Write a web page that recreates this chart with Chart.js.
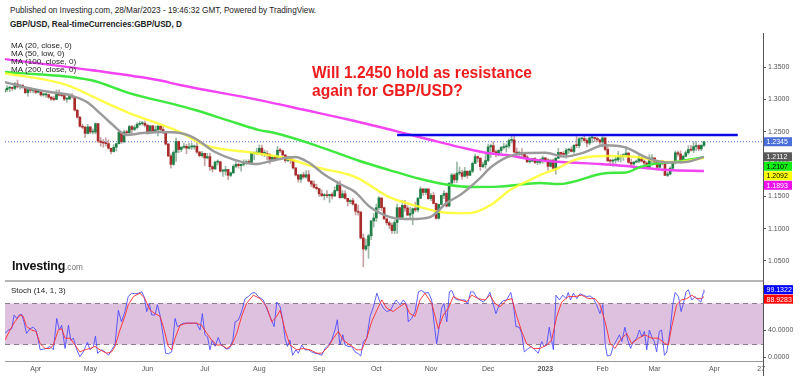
<!DOCTYPE html>
<html>
<head>
<meta charset="utf-8">
<script src="https://cdn.jsdelivr.net/npm/chart.js@4.4.0/dist/chart.umd.min.js"></script>
<style>
  body { margin: 0; width: 800px; height: 376px; background: #fff; position: relative; overflow: hidden;
         font-family: "Liberation Sans", Arial, sans-serif; }
  canvas { position: absolute; left: 0; }
  #main { top: 33px; }
  #stoch { top: 281px; }
  .t { position: absolute; white-space: nowrap; color: #222; line-height: 1; }
  #pub { left: 10px; top: 7px; font-size: 8.2px; }
  #sym { left: 10px; top: 20.5px; font-size: 8.2px; font-weight: bold; }
  #legend { left: 11px; top: 41.6px; font-size: 8.1px; line-height: 8.1px; }
  #note { left: 312px; top: 64px; font-size: 15.6px; font-weight: bold; color: #ee1c1c; line-height: 18px; }
  #logo { left: 12px; top: 260px; font-size: 12.5px; font-weight: bold; color: #111; letter-spacing: -0.2px; }
  #logo span { font-size: 8.2px; font-weight: normal; color: #777; letter-spacing: 0; }
  #stlabel { left: 11px; top: 287px; font-size: 8px; }
  #sep { position: absolute; left: 5px; top: 280px; width: 758px; height: 0; border-top: 2px solid #b4b4b4; }
  #axisfoot { position: absolute; left: 763px; top: 361px; width: 1px; height: 15px; background: #555; }
</style>
</head>
<body>
<div class="t" id="pub">Published on Investing.com, 28/Mar/2023 - 19:46:32 GMT, Powered by TradingView.</div>
<div class="t" id="sym">GBP/USD, Real-timeCurrencies:GBP/USD, D</div>
<canvas id="main" width="800" height="248" style="width:800px;height:248px"></canvas>
<canvas id="stoch" width="800" height="95" style="width:800px;height:95px"></canvas>
<div class="t" id="legend">MA (20, close, 0)<br>MA (50, low, 0)<br>MA (100, close, 0)<br>MA (200, close, 0)</div>
<div class="t" id="note">Will 1.2450 hold as resistance<br>again for GBP/USD?</div>
<div class="t" id="logo">Investing<span>.com</span></div>
<div class="t" id="stlabel">Stoch (14, 1, 3)</div>
<div id="sep"></div>
<div id="axisfoot"></div>
<script>
// daily bars, index 0 = 16 Mar 2022 ... 269 = 28 Mar 2023 (weekdays)
const firstOpen = 1.3120;
const closes = [
  1.3150,1.3175,1.3180,1.3170,1.3240,1.3195,1.3220,1.3185,1.3105,1.3150,
  1.3140,1.3140,1.3110,1.3115,1.3070,1.3070,1.3075,1.3035,1.3005,1.3000,
  1.3105,1.3065,1.3060,1.3005,1.3005,1.3065,1.3040,1.2835,1.2725,1.2585,
  1.2570,1.2475,1.2575,1.2495,1.2495,1.2625,1.2355,1.2335,1.2325,1.2315,
  1.2245,1.2195,1.2260,1.2315,1.2490,1.2345,1.2495,1.2485,1.2580,1.2535,
  1.2565,1.2615,1.2625,1.2630,1.2600,1.2480,1.2590,1.2490,1.2530,1.2585,
  1.2535,1.2490,1.2310,1.2125,1.1995,1.2180,1.2350,1.2225,1.2260,1.2275,
  1.2245,1.2265,1.2265,1.2275,1.2185,1.2130,1.2165,1.2095,1.2115,1.1960,
  1.1925,1.2030,1.2035,1.1890,1.1890,1.1915,1.1825,1.1865,1.1965,1.1995,
  1.1975,1.1995,1.2010,1.2035,1.2025,1.2165,1.2170,1.2180,1.2245,1.2165,
  1.2165,1.2150,1.2075,1.2105,1.2075,1.2215,1.2205,1.2140,1.2055,1.2100,
  1.2060,1.1940,1.1830,1.1765,1.1835,1.1800,1.1835,1.1735,1.1690,1.1640,
  1.1620,1.1540,1.1510,1.1520,1.1510,1.1530,1.1505,1.1590,1.1675,1.1480,
  1.1540,1.1470,1.1420,1.1435,1.1380,1.1270,1.1255,1.0855,1.0685,1.0735,
  1.0890,1.1120,1.1165,1.1325,1.1475,1.1325,1.1150,1.1090,1.1055,1.0970,
  1.1095,1.1325,1.1175,1.1360,1.1320,1.1210,1.1235,1.1310,1.1290,1.1470,
  1.1615,1.1560,1.1615,1.1465,1.1515,1.1390,1.1160,1.1375,1.1515,1.1545,
  1.1350,1.1705,1.1830,1.1755,1.1860,1.1865,1.1810,1.1890,1.1825,1.1890,
  1.2010,1.2115,1.2090,1.1960,1.1990,1.2055,1.2265,1.2285,1.2190,1.2155,
  1.2210,1.2255,1.2265,1.2280,1.2365,1.2375,1.2185,1.2145,1.2180,1.2150,
  1.2110,1.2035,1.2045,1.2085,1.2025,1.2025,1.2070,1.2095,1.2065,1.1965,
  1.2060,1.1935,1.2090,1.2180,1.2155,1.2150,1.2215,1.2225,1.2195,1.2290,
  1.2285,1.2390,1.2395,1.2365,1.2325,1.2405,1.2405,1.2395,1.2375,1.2340,
  1.2405,1.2225,1.2050,1.2045,1.2060,1.2065,1.2110,1.2120,1.2145,1.2170,
  1.2025,1.2000,1.2030,1.2045,1.2095,1.2045,1.2015,1.1945,1.2065,1.2095,
  1.2030,1.1950,1.2045,1.2035,1.1825,1.1845,1.1935,1.2035,1.2175,1.2155,
  1.2055,1.2120,1.2175,1.2225,1.2215,1.2270,1.2285,1.2235,1.2290,1.2345
];
const highs = [
  1.3165,1.3215,1.3200,1.3195,1.3265,1.3300,1.3235,1.3230,1.3190,1.3170,
  1.3180,1.3150,1.3160,1.3140,1.3140,1.3100,1.3100,1.3085,1.3050,1.3050,
  1.3145,1.3150,1.3085,1.3065,1.3025,1.3090,1.3090,1.3050,1.2840,1.2740,
  1.2620,1.2585,1.2615,1.2580,1.2545,1.2640,1.2630,1.2410,1.2380,1.2405,
  1.2375,1.2245,1.2300,1.2320,1.2525,1.2500,1.2525,1.2525,1.2600,1.2600,
  1.2595,1.2640,1.2665,1.2660,1.2665,1.2615,1.2600,1.2600,1.2590,1.2600,
  1.2600,1.2590,1.2495,1.2320,1.2155,1.2205,1.2405,1.2355,1.2270,1.2325,
  1.2305,1.2325,1.2325,1.2295,1.2330,1.2195,1.2195,1.2170,1.2165,1.2165,
  1.1975,1.2045,1.2065,1.2045,1.1920,1.1965,1.1920,1.1875,1.1990,1.2035,
  1.2015,1.2005,1.2065,1.2065,1.2065,1.2185,1.2190,1.2245,1.2295,1.2295,
  1.2215,1.2205,1.2165,1.2125,1.2120,1.2275,1.2245,1.2215,1.2145,1.2125,
  1.2115,1.2080,1.1945,1.1840,1.1845,1.1875,1.1900,1.1900,1.1745,1.1740,
  1.1690,1.1620,1.1600,1.1545,1.1590,1.1535,1.1560,1.1650,1.1735,1.1740,
  1.1590,1.1590,1.1470,1.1450,1.1470,1.1385,1.1365,1.1270,1.0920,1.0840,
  1.0915,1.1130,1.1235,1.1380,1.1495,1.1475,1.1335,1.1165,1.1115,1.1090,
  1.1130,1.1380,1.1325,1.1440,1.1440,1.1355,1.1335,1.1320,1.1410,1.1485,
  1.1645,1.1620,1.1615,1.1615,1.1545,1.1565,1.1395,1.1380,1.1520,1.1590,
  1.1560,1.1710,1.1855,1.1850,1.2030,1.1955,1.1905,1.1950,1.1890,1.1905,
  1.2030,1.2155,1.2125,1.2100,1.2030,1.2155,1.2310,1.2310,1.2345,1.2215,
  1.2220,1.2275,1.2320,1.2310,1.2390,1.2445,1.2430,1.2245,1.2200,1.2240,
  1.2170,1.2130,1.2080,1.2090,1.2100,1.2065,1.2085,1.2125,1.2100,1.2085,
  1.2070,1.2075,1.2100,1.2245,1.2185,1.2195,1.2245,1.2245,1.2265,1.2300,
  1.2425,1.2410,1.2405,1.2450,1.2395,1.2420,1.2420,1.2415,1.2415,1.2375,
  1.2425,1.2410,1.2265,1.2075,1.2075,1.2115,1.2195,1.2145,1.2160,1.2270,
  1.2180,1.2075,1.2045,1.2065,1.2145,1.2110,1.2065,1.2035,1.2145,1.2145,
  1.2095,1.2035,1.2055,1.2045,1.2040,1.1875,1.1955,1.2045,1.2205,1.2200,
  1.2205,1.2140,1.2205,1.2285,1.2290,1.2345,1.2345,1.2300,1.2300,1.2350
];
const lows = [
  1.3105,1.3125,1.3120,1.3140,1.3150,1.3180,1.3160,1.3170,1.3090,1.3050,
  1.3105,1.3100,1.3090,1.3100,1.3050,1.3050,1.3030,1.3015,1.2985,1.2975,
  1.2995,1.3055,1.3040,1.2980,1.2955,1.3000,1.3020,1.2820,1.2710,1.2570,
  1.2545,1.2410,1.2465,1.2470,1.2465,1.2465,1.2330,1.2275,1.2260,1.2275,
  1.2230,1.2155,1.2185,1.2200,1.2310,1.2320,1.2325,1.2440,1.2470,1.2475,
  1.2515,1.2545,1.2600,1.2600,1.2575,1.2460,1.2470,1.2475,1.2480,1.2435,
  1.2510,1.2470,1.2290,1.2115,1.1935,1.1980,1.2040,1.2175,1.2190,1.2240,
  1.2160,1.2230,1.2225,1.2230,1.2165,1.2110,1.2105,1.1975,1.2080,1.1900,
  1.1875,1.1915,1.1985,1.1875,1.1810,1.1830,1.1760,1.1805,1.1850,1.1945,
  1.1935,1.1890,1.1970,1.1995,1.2015,1.2000,1.2065,1.2145,1.2165,1.2130,
  1.2115,1.2065,1.2005,1.2050,1.2045,1.2065,1.2180,1.2115,1.2025,1.2035,
  1.2010,1.1920,1.1815,1.1720,1.1715,1.1780,1.1780,1.1720,1.1650,1.1625,
  1.1600,1.1500,1.1495,1.1445,1.1480,1.1405,1.1460,1.1500,1.1580,1.1470,
  1.1475,1.1455,1.1350,1.1385,1.1365,1.1210,1.1210,1.0840,1.0410,1.0660,
  1.0540,1.0830,1.1025,1.1110,1.1285,1.1285,1.1145,1.1055,1.1000,1.0925,
  1.0925,1.0925,1.1150,1.1160,1.1265,1.1200,1.1145,1.1060,1.1260,1.1260,
  1.1465,1.1515,1.1525,1.1450,1.1435,1.1385,1.1145,1.1150,1.1370,1.1465,
  1.1335,1.1340,1.1660,1.1710,1.1710,1.1830,1.1765,1.1805,1.1780,1.1820,
  1.1865,1.2010,1.2030,1.1900,1.1945,1.1935,1.2035,1.2100,1.2180,1.2110,
  1.2125,1.2175,1.2230,1.2185,1.2245,1.2325,1.2180,1.2105,1.2120,1.2110,
  1.2080,1.2020,1.2015,1.2035,1.2005,1.1990,1.2000,1.2010,1.2030,1.1905,
  1.1955,1.1925,1.1840,1.2085,1.2105,1.2120,1.2090,1.2165,1.2185,1.2170,
  1.2255,1.2250,1.2340,1.2340,1.2265,1.2295,1.2330,1.2345,1.2345,1.2285,
  1.2265,1.2205,1.2040,1.2010,1.1965,1.2010,1.2035,1.2030,1.2055,1.2120,
  1.2010,1.1980,1.1915,1.2020,1.2020,1.2030,1.1990,1.1925,1.1940,1.2015,
  1.1990,1.1925,1.1940,1.1985,1.1820,1.1805,1.1830,1.1910,1.2000,1.2120,
  1.2010,1.2025,1.2110,1.2150,1.2200,1.2175,1.2205,1.2205,1.2205,1.2270
];

// moving averages: [day index, price]
const ma20 = [[0,1.3269],[6,1.3207],[17.5,1.3115],[25,1.3068],[31.7,1.2960],[36.7,1.2789],[41.7,1.2604],
  [47,1.2449],[53,1.2480],[60,1.2495],[67.5,1.2480],[73,1.2402],[81,1.2186],[88.7,1.2062],[96.3,1.2000],
  [104,1.2062],[111.7,1.2108],[116.7,1.2031],[123.3,1.1830],[129.8,1.1675],[134.8,1.1567],[140.6,1.1334],
  [148.3,1.1180],[156,1.1149],[163.7,1.1180],[170,1.1396],[175.2,1.1520],[182.9,1.1783],[186.7,1.1938],
  [193.3,1.2108],[200,1.2170],[208,1.2175],[215,1.2115],[223,1.2180],[230.5,1.2290],[239,1.2255],
  [246.5,1.2108],[254.5,1.2025],[262,1.2031],[269,1.2112]];
const ma50low = [[0,1.3408],[24,1.3223],[36.7,1.2990],[48,1.2789],[67.5,1.2495],[77,1.2294],[96.3,1.2170],
  [108,1.2093],[119.4,1.1954],[135,1.1799],[148,1.1489],[156,1.1381],[167.5,1.1257],[175,1.1241],[179,1.1241],
  [187,1.1365],[194.4,1.1597],[202,1.1752],[206,1.1830],[213,1.1938],[219,1.2062],[231,1.2124],[243,1.2108],
  [251.3,1.2046],[258,1.2031],[269,1.2092]];
const ma100 = [[0,1.3424],[33,1.3300],[48,1.3099],[67.5,1.2900],[73,1.2840],[89,1.2635],[98,1.2526],[104,1.2480],
  [119.4,1.2294],[136,1.2055],[148,1.1907],[160,1.1768],[171,1.1675],[180,1.1644],[190,1.1650],[200,1.1690],
  [206,1.1706],[213,1.1690],[232,1.1861],[239,1.1870],[244.5,1.1954],[251.3,1.2010],[257,1.2030],[269,1.2107]];
const ma200 = [[0,1.3625],[33,1.3455],[59,1.3300],[67.5,1.3223],[98,1.2990],[115.6,1.2836],[133,1.2681],
  [152,1.2495],[164,1.2372],[175,1.2263],[185.6,1.2170],[193,1.2139],[202,1.2077],[214,1.2031],[229,1.2000],
  [239,1.1969],[255,1.1907],[269,1.1893]];

// Stoch (14,1,3): [day index, value]
const stochK = [[0.2,35],[1.5,40],[2.8,42],[3.7,62],[4.7,57],[5.7,62],[6.6,63],[7.5,52],[8.5,35],[9.8,42],
  [11.1,44],[12.1,40],[13,26],[13.7,11],[14.9,12],[16.2,13],[17.5,16],[18.8,11],[20.1,57],[21.1,40],
  [22,47],[23.3,13],[24.6,47],[25.5,25],[26.5,28],[27.8,11],[29,1],[30.3,8],[31.9,22],[32.9,11],
  [34.2,16],[35,31],[35.8,6],[37.4,11],[38.7,8],[40,3],[41.2,11],[42.5,18],[43.8,69],[45,52],
  [46.3,67],[47.6,89],[48.9,94],[50.2,93],[51.5,94],[52.8,96],[53.7,89],[54.7,67],[55.7,79],[56.6,62],
  [57.9,62],[58.8,77],[59.8,62],[61.1,30],[62,6],[63,5],[64.3,8],[64.9,30],[65.6,57],[66.5,45],
  [67.5,47],[68.8,50],[71.4,50],[73.9,50],[75.2,40],[76.1,64],[77.1,33],[78.1,30],[79,11],[79.9,25],
  [81,16],[82.2,29],[83.3,18],[84.2,16],[85.2,12],[86.5,13],[87.8,25],[88.7,52],[90,55],[91.2,67],
  [92.5,86],[93.8,89],[95.1,94],[96.3,95],[97.6,89],[99.5,84],[100.8,72],[102.1,60],[103.7,45],[104.7,81],
  [106,74],[107,55],[107.9,28],[108.8,16],[109.8,25],[110.8,3],[112.1,11],[113,6],[114.3,18],[115.6,11],
  [116.9,11],[118.1,8],[119.4,6],[120.7,5],[122,3],[123.3,13],[124.6,18],[125.8,25],[127.1,40],[128,55],
  [129,18],[130.1,33],[131,18],[132.2,16],[133.5,16],[134.8,8],[136.1,5],[137,2],[138,23],[139.3,28],
  [140.6,60],[141.9,74],[143.2,94],[144.4,81],[145.7,72],[147,67],[148.5,69],[149.5,77],[150.6,84],[152.1,77],
  [153.4,84],[154.7,77],[155.3,52],[156.6,57],[157.9,67],[159.2,96],[160.4,98],[161.7,94],[163,95],[164.3,84],
  [165.2,50],[166.2,20],[167.2,45],[168.1,72],[169,79],[170.1,52],[171.1,96],[172,98],[173.3,86],[174.5,84],
  [175.8,84],[177.1,84],[178.1,78],[179.3,96],[180.3,96],[181.6,88],[182.9,84],[184.2,81],[185.4,86],[186.7,95],
  [187.7,81],[189,64],[190.3,77],[191.8,83],[193.1,84],[194.7,95],[195.7,77],[196.7,45],[198,44],[198.9,35],
  [199.9,8],[201.5,13],[202.7,16],[204,11],[205.3,6],[206.6,23],[207.5,16],[208.5,18],[209.5,44],[210.4,25],
  [211.1,11],[212.1,91],[213.4,84],[214.7,91],[216,86],[216.8,95],[217.7,84],[218.8,94],[220.1,86],[221.3,93],
  [222.6,91],[223.9,89],[225.2,90],[226.5,86],[227.7,77],[229,64],[230.1,77],[231,20],[231.8,2],[233.1,3],
  [234.1,16],[235.4,25],[236.5,33],[237.4,23],[238.6,44],[239.7,25],[240.8,13],[241.8,23],[243.1,28],[244.2,40],
  [245.1,30],[246.1,38],[247,11],[248,40],[248.9,30],[249.9,23],[250.8,8],[251.8,38],[252.7,40],[253.8,3],
  [254.7,8],[256,40],[257,77],[257.9,95],[259.2,89],[260.2,67],[261.1,79],[262.1,96],[263,99],[264.3,84],
  [265.6,89],[266.8,84],[267.8,81],[268.7,94],[269,99.1322]];
const stochD = [[0.2,25],[2.1,40],[4,52],[6,62],[7.2,60],[8.5,45],[10.4,40],[12.1,38],[13.7,20],[15.6,13],
  [17.5,13],[18.8,18],[20.7,40],[22,42],[23.3,28],[25.2,28],[27.1,18],[29,8],[31,11],[32.9,13],
  [34.8,16],[36.7,11],[39.3,6],[41.2,8],[42.5,16],[44.4,40],[46.3,60],[47.6,77],[49.6,89],[52.1,94],
  [54,86],[56,69],[57.9,64],[59.8,60],[61.1,45],[63,16],[64.3,11],[65.6,28],[67.5,47],[70.1,50],
  [73.9,50],[75.8,47],[77.8,35],[79.7,25],[81.6,18],[83.5,18],[85.5,13],[87.4,18],[89.3,35],[91.2,60],
  [93.1,79],[95.7,91],[98.3,86],[100.8,74],[102.8,52],[104.7,60],[106,69],[107.9,40],[109.8,18],[112.4,11],
  [114.9,13],[117.5,11],[120.1,6],[122,6],[124.6,16],[126.5,28],[128.4,38],[130.3,25],[132.9,18],[135.5,11],
  [137.4,11],[139.3,28],[141.2,52],[143.2,69],[145.1,84],[147,72],[149.5,67],[151.9,74],[154,79],[155.9,64],
  [157.9,60],[159.8,84],[161.7,94],[164.3,79],[165.6,60],[166.8,42],[168.8,62],[170.7,72],[172.6,89],[175.2,84],
  [177.7,81],[179.7,91],[182.2,86],[184.8,84],[186.7,91],[188.6,79],[190.6,74],[193.1,84],[195.1,86],[197,60],
  [198.9,38],[200.8,20],[203.4,13],[206,13],[208.5,18],[210.4,25],[212.4,60],[214.3,81],[216.8,89],[219.4,89],
  [222,91],[224.5,86],[227.1,86],[229,77],[231,52],[232.9,20],[234.8,13],[236.7,25],[239.3,35],[241.2,20],
  [243.8,28],[246.3,33],[248.9,28],[251.5,28],[254,20],[255.3,18],[256.6,45],[258.5,77],[260.4,84],[262.4,86],
  [264.3,91],[266.2,86],[268.1,86],[269,88.9283]];

const monthTicks = [12, 33, 55, 77, 98, 121, 143, 164, 186, 208, 230, 250, 273, 291];
const monthLabels = ['Apr', 'May', 'Jun', 'Jul', 'Aug', 'Sep', 'Oct', 'Nov', 'Dec', '2023', 'Feb', 'Mar', 'Apr', '27'];
const priceTicks = [1.05, 1.10, 1.15, 1.20, 1.25, 1.30, 1.35];
const stochTicks = [0, 40];

const lastClose = 1.2345;
const resistance = 1.2450;
const resistanceDays = [151, 282];
const lastMA = [1.2112, 1.2107, 1.2092, 1.1893];
const lastStoch = [99.1322, 88.9283];

const xMin = 0.2, xMax = 291.7;

Chart.defaults.font.family = '"Liberation Sans", Arial, sans-serif';
Chart.defaults.font.size = 7;
Chart.defaults.color = '#555';

const opens = closes.map((c, i) => i ? closes[i - 1] : firstOpen);
const isUp = i => closes[i] >= opens[i];

function fixY(scale) {
  scale.width = 37;
  scale.paddingTop = 0;
  scale.paddingBottom = 0;
}

const tagPlugin = {
  id: 'tags',
  afterDraw(chart, args, opts) {
    const { ctx, chartArea, scales: { y } } = chart;
    let prev = -Infinity;
    ctx.save();
    ctx.font = '7px "Liberation Sans", Arial, sans-serif';
    ctx.textBaseline = 'middle';
    opts.items.forEach(t => {
      const py = Math.max(y.getPixelForValue(t.value), prev + 9.5);
      prev = py;
      ctx.fillStyle = t.bg;
      ctx.fillRect(chartArea.right + 1, py - 4.5, opts.w, 9);
      ctx.fillStyle = t.fg;
      ctx.fillText(t.value.toFixed(4), chartArea.right + 3.5, py + 0.5);
    });
    ctx.restore();
  }
};

const bandPlugin = {
  id: 'band',
  beforeDatasetsDraw(chart, args, opts) {
    const { ctx, chartArea: a, scales: { y } } = chart;
    const top = Math.round(y.getPixelForValue(opts.high)) + 0.5;
    const bot = Math.round(y.getPixelForValue(opts.low)) + 0.5;
    ctx.save();
    ctx.fillStyle = '#dec1de';
    ctx.fillRect(a.left, top, a.right - a.left, bot - top);
    ctx.strokeStyle = '#8c7c8c';
    ctx.lineWidth = 1;
    ctx.setLineDash([5, 4]);
    [top, bot].forEach(py => {
      ctx.beginPath();
      ctx.moveTo(a.left, py);
      ctx.lineTo(a.right, py);
      ctx.stroke();
    });
    ctx.restore();
  }
};

function maLine(points, color, order) {
  return {
    type: 'line',
    data: points.map(([x, y]) => ({ x, y })),
    borderColor: color,
    borderWidth: 2.4,
    pointRadius: 0,
    cubicInterpolationMode: 'monotone',
    order
  };
}

new Chart(document.getElementById('main'), {
  type: 'bar',
  data: {
    datasets: [
      {
        type: 'line',
        data: [{ x: xMin, y: lastClose }, { x: xMax, y: lastClose }],
        borderColor: '#4a6fd8',
        borderWidth: 1,
        borderDash: [1, 2],
        pointRadius: 0,
        order: 20
      },
      {
        data: closes.map((c, i) => ({
          x: i,
          y: [Math.min(lows[i], opens[i], c), Math.max(highs[i], opens[i], c)]
        })),
        backgroundColor: closes.map((c, i) => isUp(i) ? '#9cb9a6' : '#c7a2a2'),
        barThickness: 1,
        grouped: false,
        order: 11
      },
      {
        data: closes.map((c, i) => ({ x: i, y: [opens[i], c] })),
        backgroundColor: closes.map((c, i) => isUp(i) ? '#1f7f47' : '#a92b2b'),
        barThickness: 2,
        minBarLength: 1,
        grouped: false,
        order: 10
      },
      maLine(ma200, '#f244f2', 5),
      maLine(ma100, '#3ee83e', 4),
      maLine(ma50low, 'rgba(255,255,40,0.85)', 3),
      maLine(ma20, '#9a9a9a', 2),
      {
        type: 'line',
        data: resistanceDays.map(d => ({ x: d, y: resistance })),
        borderColor: '#0a0ae6',
        borderWidth: 2.5,
        pointRadius: 0,
        order: 0
      }
    ]
  },
  options: {
    responsive: false,
    animation: false,
    events: [],
    devicePixelRatio: 1,
    layout: { padding: { left: 5, right: 0, top: 0, bottom: 0 } },
    plugins: {
      legend: { display: false },
      tooltip: { enabled: false },
      tags: {
        w: 28,
        items: [
          { value: lastClose, bg: '#4a6fd8', fg: '#fff' },
          { value: lastMA[0], bg: '#5a5a5a', fg: '#fff' },
          { value: lastMA[1], bg: '#11ee11', fg: '#000' },
          { value: lastMA[2], bg: '#ffff00', fg: '#000' },
          { value: lastMA[3], bg: '#ee11ee', fg: '#fff' }
        ]
      }
    },
    scales: {
      x: { type: 'linear', min: xMin, max: xMax, offset: false, display: false },
      y: {
        position: 'right',
        min: 1.019,
        max: 1.4028,
        afterBuildTicks: s => { s.ticks = priceTicks.map(v => ({ value: v })); },
        afterFit: fixY,
        ticks: { padding: 2, callback: v => v.toFixed(4) },
        grid: { drawOnChartArea: false, tickLength: 3, color: '#555' },
        border: { display: true, color: '#555' }
      }
    }
  },
  plugins: [tagPlugin]
});

new Chart(document.getElementById('stoch'), {
  type: 'line',
  data: {
    datasets: [
      {
        data: stochD.map(([x, y]) => ({ x, y })),
        borderColor: 'rgba(255,45,45,0.9)',
        borderWidth: 1,
        pointRadius: 0
      },
      {
        data: stochK.map(([x, y]) => ({ x, y })),
        borderColor: 'rgba(70,70,255,0.85)',
        borderWidth: 1,
        pointRadius: 0
      }
    ]
  },
  options: {
    responsive: false,
    animation: false,
    events: [],
    devicePixelRatio: 1,
    layout: { padding: { left: 5, right: 0, top: 0, bottom: 0 } },
    plugins: {
      legend: { display: false },
      tooltip: { enabled: false },
      band: { low: 20, high: 80 },
      tags: {
        w: 29,
        items: [
          { value: lastStoch[0], bg: '#0000ff', fg: '#fff' },
          { value: lastStoch[1], bg: '#ff0000', fg: '#fff' }
        ]
      }
    },
    scales: {
      x: {
        type: 'linear',
        min: xMin,
        max: xMax,
        afterBuildTicks: s => { s.ticks = monthTicks.map(v => ({ value: v })); },
        afterFit: s => { s.height = 15; s.paddingLeft = 0; s.paddingRight = 0; },
        ticks: {
          autoSkip: false,
          maxRotation: 0,
          padding: 4,
          callback: v => monthLabels[monthTicks.indexOf(v)],
          font: ctx => ({ size: 7, weight: ctx.tick && ctx.tick.value === 208 ? 'bold' : 'normal' })
        },
        grid: { display: false, drawTicks: false, tickLength: 0 },
        border: { display: true, color: '#999' }
      },
      y: {
        position: 'right',
        min: -5.4,
        max: 111.8,
        afterBuildTicks: s => { s.ticks = stochTicks.map(v => ({ value: v })); },
        afterFit: fixY,
        ticks: { padding: 2, callback: v => v.toFixed(4) },
        grid: { drawOnChartArea: false, tickLength: 3, color: '#555' },
        border: { display: true, color: '#555' }
      }
    }
  },
  plugins: [bandPlugin, tagPlugin]
});
</script>
</body>
</html>
